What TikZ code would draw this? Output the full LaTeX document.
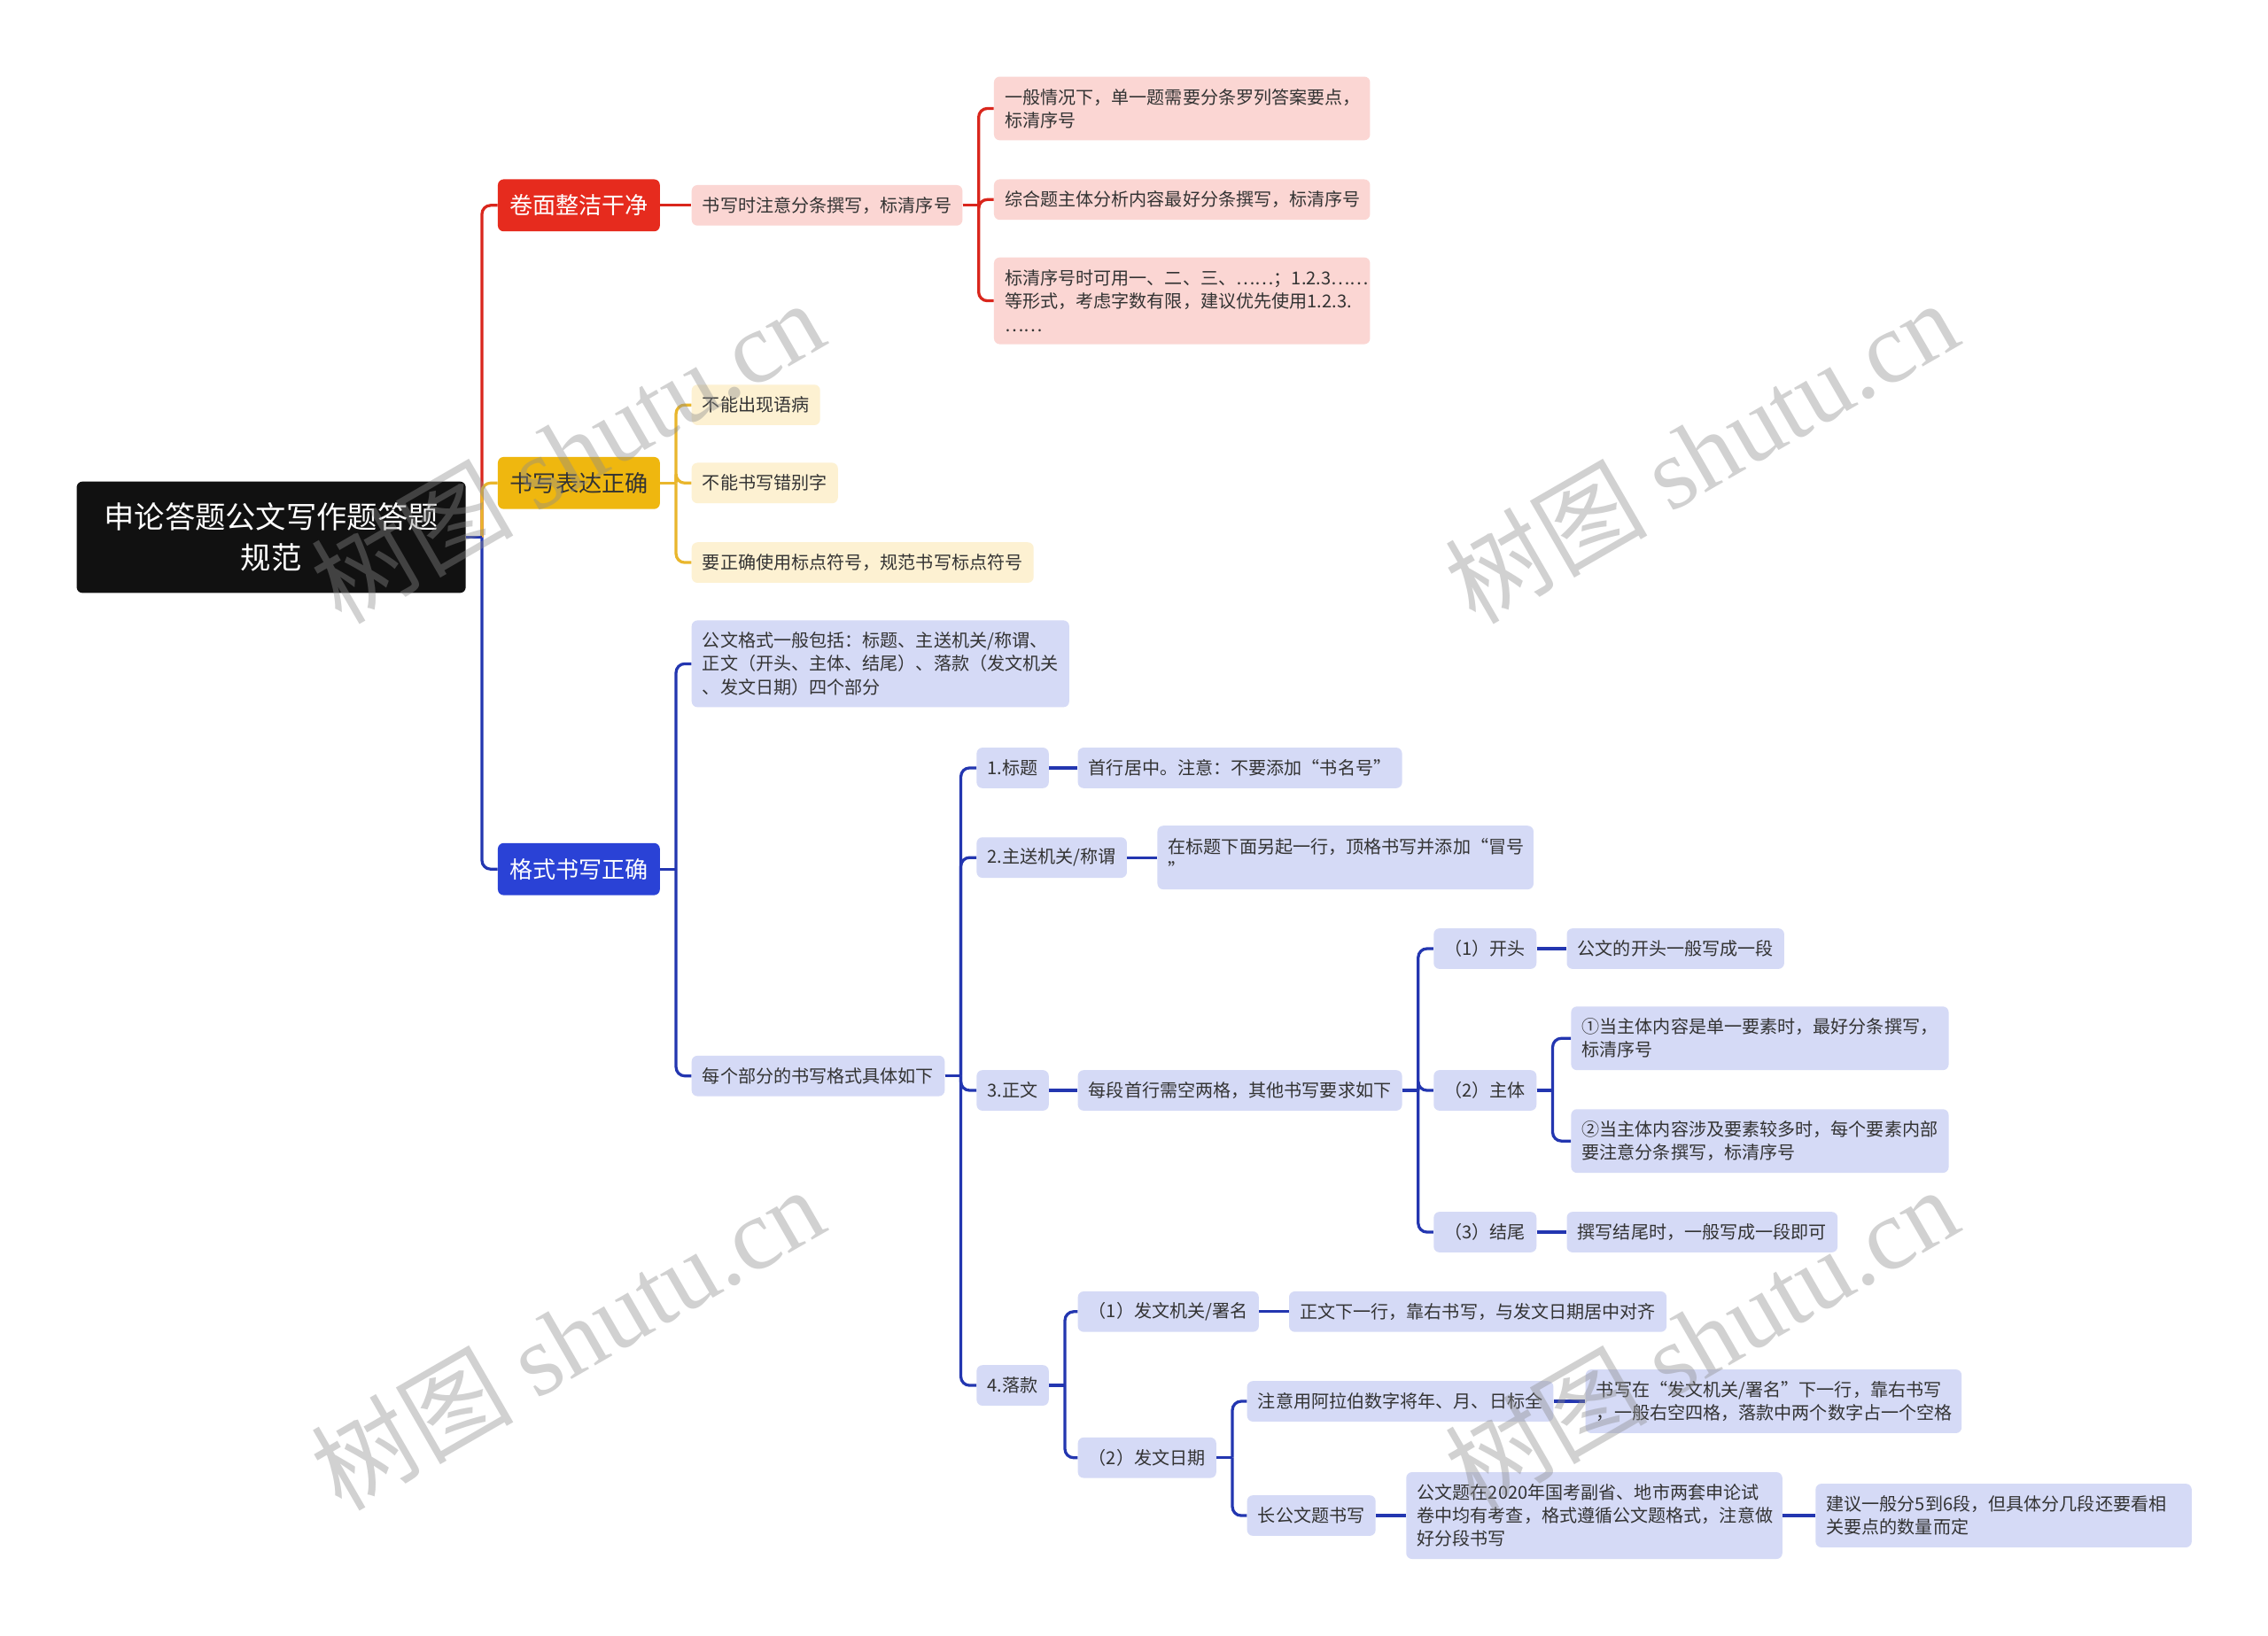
\documentclass[tikz,border=0pt]{standalone}
\usepackage{fontspec}
\setmainfont{Noto Sans CJK SC}
\newfontfamily\wmlatin{Liberation Serif}
\usetikzlibrary{calc}
\definecolor{rootf}{HTML}{111111}
\definecolor{redf}{HTML}{E62B1E}
\definecolor{redl}{HTML}{D9261C}
\definecolor{yelf}{HTML}{EFB70F}
\definecolor{yell}{HTML}{E9B62C}
\definecolor{bluef}{HTML}{2A42D6}
\definecolor{bluel}{HTML}{2336B0}
\definecolor{pinkf}{HTML}{FBD6D3}
\definecolor{creamf}{HTML}{FDF1D2}
\definecolor{lavf}{HTML}{D5DAF6}
\definecolor{txt}{HTML}{333333}
\definecolor{wmgray}{HTML}{8C8C8C}
\newcommand\mfs{\fontsize{12.3}{16}\selectfont}
\newcommand\lfs{\fontsize{16}{20}\selectfont}
\newcommand\rfs{\fontsize{21}{28}\selectfont}
\tikzset{
  basebox/.style={rectangle, rounded corners=4, inner xsep=7.5, inner ysep=0, minimum height=28, anchor=west, font=\mfs, text=txt},
  pk/.style={basebox, fill=pinkf},
  cr/.style={basebox, fill=creamf},
  lv/.style={basebox, fill=lavf},
  wide/.style={text width=#1, align=left},
  lone/.style={rectangle, rounded corners=4, minimum width=112, minimum height=36, inner sep=0, anchor=west, font=\lfs},
  lk/.style={line width=2pt},
  wm/.style={rotate=30, text=wmgray, opacity=0.4, font=\fontsize{70}{74}\selectfont}
}
% branching connector: stub, then vertical with a rounded turn into the child
\newcommand\conn[3]{%
  \draw[lk,#1] (#2.east) -- ++(11,0);
  \draw[lk,#1,rounded corners=6] ($(#2.east)+(11,0)$) |- (#3.west);}
% straight connector to a single child on the same line
\newcommand\sconn[3]{%
  \draw[lk,#1] (#2.east) -- (#2.east -| #3.west);}
\begin{document}
\begin{tikzpicture}[x=1pt,y=-1pt]
\fill[white] (0,0) rectangle (1568,1131);
\useasboundingbox (0,0) rectangle (1568,1131);

% root
\node[rectangle, rounded corners=4, fill=rootf, text=white, minimum width=269, minimum height=77, inner sep=0, align=center, font=\rfs] (root) at (187.5,371.5) {申论答题公文写作题答题\\规范};

% level 1
\node[lone, fill=redf, text=white] (A) at (344,142) {卷面整洁干净};
\node[lone, fill=yelf, text=txt] (B) at (344,334) {书写表达正确};
\node[lone, fill=bluef, text=white] (C) at (344,601) {格式书写正确};

% red branch
\node[pk] (A1) at (478,142) {书写时注意分条撰写，标清序号};
\node[pk, wide=245, minimum height=44] (A11) at (687,75) {一般情况下，单一题需要分条罗列答案要点，\\标清序号};
\node[pk, wide=245] (A12) at (687,138) {综合题主体分析内容最好分条撰写，标清序号};
\node[pk, wide=245, minimum height=60] (A13) at (687,208) {标清序号时可用一、二、三、……；1.2.3……\\等形式，考虑字数有限，建议优先使用1.2.3.\\……};

% yellow branch
\node[cr] (B1) at (478,280) {不能出现语病};
\node[cr] (B2) at (478,334) {不能书写错别字};
\node[cr] (B3) at (478,389) {要正确使用标点符号，规范书写标点符号};

% blue branch
\node[lv, wide=246, minimum height=60] (C1) at (478,459) {公文格式一般包括：标题、主送机关/称谓、\\正文（开头、主体、结尾）、落款（发文机关\\、发文日期）四个部分};
\node[lv] (C2) at (478,744) {每个部分的书写格式具体如下};

\node[lv] (D1) at (675,531) {1.标题};
\node[lv] (D1a) at (745,531) {首行居中。注意：不要添加“书名号”};
\node[lv] (D2) at (675,593) {2.主送机关/称谓};
\node[lv, wide=245, minimum height=44] (D2a) at (800,593) {在标题下面另起一行，顶格书写并添加“冒号\\”};
\node[lv] (D3) at (675,754) {3.正文};
\node[lv] (D3a) at (745,754) {每段首行需空两格，其他书写要求如下};
\node[lv] (E1) at (991,656) {（1）开头};
\node[lv] (E1a) at (1083,656) {公文的开头一般写成一段};
\node[lv] (E2) at (991,754) {（2）主体};
\node[lv, wide=246, minimum height=44] (E2a) at (1086,718) {①当主体内容是单一要素时，最好分条撰写，\\标清序号};
\node[lv, wide=246, minimum height=44] (E2b) at (1086,789) {②当主体内容涉及要素较多时，每个要素内部\\要注意分条撰写，标清序号};
\node[lv] (E3) at (991,852) {（3）结尾};
\node[lv] (E3a) at (1083,852) {撰写结尾时，一般写成一段即可};
\node[lv] (D4) at (675,958) {4.落款};
\node[lv] (F1) at (745,907) {（1）发文机关/署名};
\node[lv] (F1a) at (891,907) {正文下一行，靠右书写，与发文日期居中对齐};
\node[lv] (F2) at (745,1008) {（2）发文日期};
\node[lv] (G1) at (862,969) {注意用阿拉伯数字将年、月、日标全};
\node[lv, wide=245, minimum height=44] (G1a) at (1096,969) {书写在“发文机关/署名”下一行，靠右书写\\，一般右空四格，落款中两个数字占一个空格};
\node[lv] (G2) at (862,1048) {长公文题书写};
\node[lv, wide=245, minimum height=60] (G2a) at (972,1048) {公文题在2020年国考副省、地市两套申论试\\卷中均有考查，格式遵循公文题格式，注意做\\好分段书写};
\node[lv, wide=245, minimum height=44] (G2b) at (1255,1048) {建议一般分5到6段，但具体分几段还要看相\\关要点的数量而定};

% connectors
\conn{redl}{root}{A}
\conn{yell}{root}{B}
\conn{bluel}{root}{C}

\sconn{redl}{A}{A1}
\conn{redl}{A1}{A11}
\conn{redl}{A1}{A12}
\conn{redl}{A1}{A13}

\conn{yell}{B}{B1}
\conn{yell}{B}{B2}
\conn{yell}{B}{B3}

\conn{bluel}{C}{C1}
\conn{bluel}{C}{C2}
\conn{bluel}{C2}{D1}
\conn{bluel}{C2}{D2}
\conn{bluel}{C2}{D3}
\conn{bluel}{C2}{D4}
\sconn{bluel}{D1}{D1a}
\sconn{bluel}{D2}{D2a}
\sconn{bluel}{D3}{D3a}
\conn{bluel}{D3a}{E1}
\conn{bluel}{D3a}{E2}
\conn{bluel}{D3a}{E3}
\sconn{bluel}{E1}{E1a}
\conn{bluel}{E2}{E2a}
\conn{bluel}{E2}{E2b}
\sconn{bluel}{E3}{E3a}
\conn{bluel}{D4}{F1}
\conn{bluel}{D4}{F2}
\sconn{bluel}{F1}{F1a}
\conn{bluel}{F2}{G1}
\conn{bluel}{F2}{G2}
\sconn{bluel}{G1}{G1a}
\sconn{bluel}{G2}{G2a}
\sconn{bluel}{G2a}{G2b}

% watermarks
\node[wm] (wm1) at (392,312) {树图 {\wmlatin shutu.cn}};
\node[wm] (wm2) at (1176,312) {树图 {\wmlatin shutu.cn}};
\node[wm] (wm3) at (392,925) {树图 {\wmlatin shutu.cn}};
\node[wm] (wm4) at (1176,925) {树图 {\wmlatin shutu.cn}};
\end{tikzpicture}
\end{document}
